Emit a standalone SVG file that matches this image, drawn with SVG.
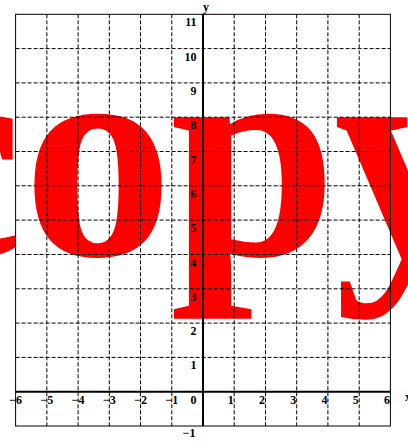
<svg xmlns="http://www.w3.org/2000/svg" width="408" height="441" viewBox="0 0 408 441">
<style>
.big{font-family:"Liberation Serif","Times New Roman",serif;font-weight:bold;font-size:300px;fill:#ff0000}
.grid{stroke:#000;stroke-width:1;stroke-dasharray:4 2;fill:none}
.frame{stroke:#000;stroke-width:1;fill:none}
.axis{stroke:#000;stroke-width:2;fill:none}
.lbl{font-family:"Liberation Serif","Times New Roman",serif;font-weight:bold;font-size:12px;fill:#000;text-anchor:end}
.ax{font-family:"Liberation Serif","Times New Roman",serif;font-weight:bold;font-size:12px;fill:#000}
</style>
<rect width="408" height="441" fill="#fff"/>
<g id="watermark"><text class="big" x="-110 23 170 334" y="255">copy</text></g>
<g id="connectors">
<g id="grid">
<path class="grid" d="M46.85 14.3V426M78.1 14.3V426M109.3 14.3V426M140.5 14.3V426M171.8 14.3V426M234.2 14.3V426M265.5 14.3V426M296.7 14.3V426M327.9 14.3V426M359.2 14.3V426"/>
<path class="grid" d="M15.6 48.6H390.4M15.6 82.9H390.4M15.6 117.2H390.4M15.6 151.5H390.4M15.6 185.8H390.4M15.6 220.1H390.4M15.6 254.5H390.4M15.6 288.8H390.4M15.6 323.1H390.4M15.6 357.4H390.4"/>
</g>
<rect id="frame" class="frame" x="15.6" y="14.3" width="374.8" height="411.7"/>
<g id="axes">
<line class="axis" x1="15.6" y1="391.7" x2="390.4" y2="391.7"/>
<line class="axis" x1="203" y1="14.3" x2="203" y2="426"/>
</g>
</g>
<g id="xlabels">
<text class="lbl" x="22" y="404">−6</text>
<text class="lbl" x="53.3" y="404">−5</text>
<text class="lbl" x="84.6" y="404">−4</text>
<text class="lbl" x="115.8" y="404">−3</text>
<text class="lbl" x="147" y="404">−2</text>
<text class="lbl" x="178.3" y="404">−1</text>
<text class="lbl" x="196.5" y="404">0</text>
<text class="lbl" x="233.8" y="404">1</text>
<text class="lbl" x="265.1" y="404">2</text>
<text class="lbl" x="296.3" y="404">3</text>
<text class="lbl" x="327.5" y="404">4</text>
<text class="lbl" x="358.8" y="404">5</text>
<text class="lbl" x="390" y="404">6</text>
<text class="ax" x="405" y="401">x</text>
</g>
<g id="ylabels">
<text class="lbl" x="196.5" y="26.3">11</text>
<text class="lbl" x="196.5" y="60.6">10</text>
<text class="lbl" x="196.5" y="94.9">9</text>
<text class="lbl" x="196.5" y="129.2">8</text>
<text class="lbl" x="196.5" y="163.5">7</text>
<text class="lbl" x="196.5" y="197.8">6</text>
<text class="lbl" x="196.5" y="232.1">5</text>
<text class="lbl" x="196.5" y="266.5">4</text>
<text class="lbl" x="196.5" y="300.8">3</text>
<text class="lbl" x="196.5" y="335.1">2</text>
<text class="lbl" x="196.5" y="369.4">1</text>
<text class="lbl" x="195.5" y="437">−1</text>
<text class="ax" x="203" y="11">y</text>
</g>
</svg>
